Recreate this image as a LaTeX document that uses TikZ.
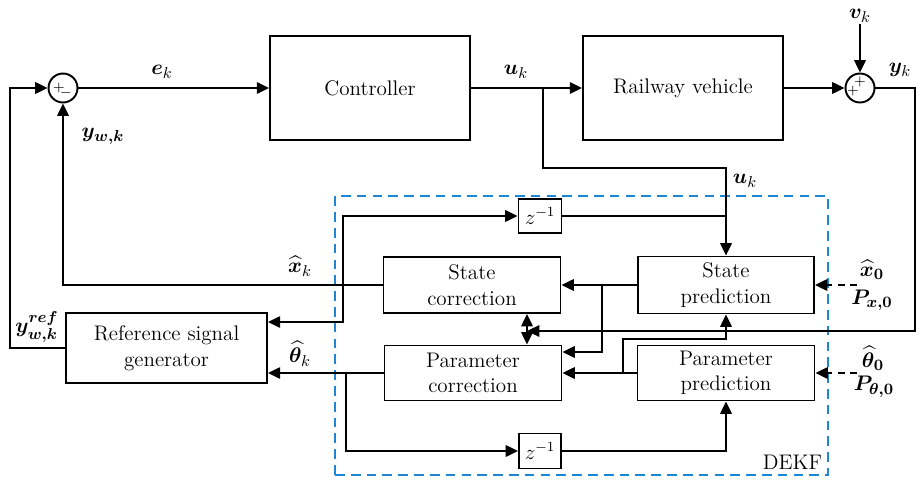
\documentclass[tikz,border=0pt]{standalone}
\usepackage{amsmath,amssymb,bm}
\usepackage{tikz}
\usetikzlibrary{arrows.meta,positioning,calc}
\definecolor{dekfblue}{HTML}{1F86D6}

\begin{document}
\begin{tikzpicture}[x=0.02cm,y=-0.02cm,font=\fontsize{12}{14.5}\selectfont,line width=1.1pt,
    >={Triangle[length=7pt,width=6.5pt]},
    blockbox/.style={draw,align=center,inner sep=0pt},
    sumnode/.style={draw,circle,minimum size=0.58cm,inner sep=0pt},
    signlbl/.style={font=\fontsize{8}{8}\selectfont,inner sep=0pt},
    siglbl/.style={font=\fontsize{13}{15}\selectfont,inner sep=0.5pt},
    initline/.style={dash pattern=on 4pt off 3pt}]
    \useasboundingbox (0,0) rectangle (916,480);
    % DEKF frame
    \node[draw=dekfblue,dash pattern=on 5.5pt off 3.5pt,minimum width=9.86cm,minimum height=5.58cm,inner sep=0] (dekf) at (581.5,335.5) {};
    \node[anchor=south east] (dekflbl) at (dekf.south east) {DEKF};
    % top loop
    \node[sumnode] (s1) at (63,88) {};
    \node[signlbl] (s1p) at (59,88) {$+$};
    \node[signlbl] (s1m) at (66,93) {$-$};
    \node[blockbox,minimum width=4cm,minimum height=2.08cm] (ctrl) at (370,88) {Controller};
    \node[blockbox,minimum width=4cm,minimum height=2.08cm] (rail) at (683,88) {Railway vehicle};
    \node[sumnode] (s2) at (860,88) {};
    \node[signlbl] (s2a) at (853,91) {$+$};
    \node[signlbl] (s2b) at (860,82) {$+$};
    \node[siglbl] (vk) at (860,16) {$\bm{v}_k$};
    % estimator blocks
    \node[blockbox,minimum width=3.54cm,minimum height=1.12cm] (sc) at (472,285) {State\\correction};
    \node[blockbox,minimum width=3.54cm,minimum height=1.1cm] (pc) at (473,373) {Parameter\\correction};
    \node[blockbox,minimum width=3.52cm,minimum height=1.14cm] (sp) at (726,285) {State\\prediction};
    \node[blockbox,minimum width=3.54cm,minimum height=1.1cm] (pp) at (726,373) {Parameter\\prediction};
    \node[blockbox,minimum width=0.86cm,minimum height=0.68cm] (zt) at (540,216) {$z^{-1}$};
    \node[blockbox,minimum width=0.84cm,minimum height=0.7cm] (zb) at (540,451) {$z^{-1}$};
    \node[blockbox,minimum width=4.02cm,minimum height=1.4cm] (rg) at (166.5,348) {Reference signal\\generator};
    % branch points
    \coordinate (ubr) at (543,88);
    \coordinate (ukturn) at (726,168);
    \coordinate (xbr) at (343,285);
    \coordinate (tbr) at (346,373);
    \coordinate (spbr) at (602,285);
    \coordinate (ppbr) at (623,373);
    \coordinate (dbl) at (527,331);
    \coordinate (x0in) at (857,285);
    \coordinate (t0in) at (857,373);
    % signals
    \draw[->] (s1.east) -- (ctrl.west);
    \draw[->] (ctrl.east) -- (rail.west);
    \draw[->] (rail.east) -- (s2.west);
    \draw[->] (vk.south) -- (s2.north);
    \draw[->] (ubr) |- (ukturn) -- (sp.north);
    \draw (zt.east) -- (zt.east -| ukturn);
    \draw[->] (s2.east) -| (915,331) -- (dbl);
    \draw[<->] (dbl |- sc.south) -- (dbl |- pc.north);
    \draw[->] (sc.west) -| (s1.south);
    \draw[->] (xbr |- rg.east) ++(0,-26) |- (zt.west);
    \draw[->] (xbr) |- (rg.east |- 0,322);
    \draw[->] (pc.west) -- (rg.east |- pc.west);
    \draw[->] (tbr) |- (zb.west);
    \draw[->] (zb.east) -| (pp.south);
    \draw[->] (sp) -- (sc);
    \draw[->] (spbr) |- (pc.east |- 0,352);
    \draw[->] (pp) -- (pc);
    \draw[->] (ppbr) |- ($(sp.south)+(0,25)$) -- (sp.south);
    \draw[->] (rg.west) -- (rg.west -| 10,0) |- (s1.west);
    \draw[->,initline] (x0in) -- (sp.east);
    \draw[->,initline] (t0in) -- (pp.east);
    % labels
    \node[siglbl] (ek) at (162,72) {$\bm{e}_k$};
    \node[siglbl] (uk) at (516,72) {$\bm{u}_k$};
    \node[siglbl] (ukd) at (745,181) {$\bm{u}_k$};
    \node[siglbl] (yk) at (900,70) {$\bm{y}_k$};
    \node[siglbl] (ywk) at (103,136) {$\bm{y}_{\bm{w,k}}$};
    \node[siglbl] (xhk) at (300,266) {$\widehat{\bm{x}}_k$};
    \node[siglbl] (thk) at (300,354) {$\widehat{\bm{\theta}}_k$};
    \node[siglbl] (yref) at (37,327) {$\bm{y}_{\bm{w,k}}^{\bm{ref}}$};
    \node[siglbl] (x0) at (872,270) {$\widehat{\bm{x}}_{\bm{0}}$};
    \node[siglbl] (px0) at (872,300) {$\bm{P}_{\bm{x,0}}$};
    \node[siglbl] (t0) at (873,358) {$\widehat{\bm{\theta}}_{\bm{0}}$};
    \node[siglbl] (pt0) at (874,387) {$\bm{P}_{\bm{\theta,0}}$};
\end{tikzpicture}
\end{document}
